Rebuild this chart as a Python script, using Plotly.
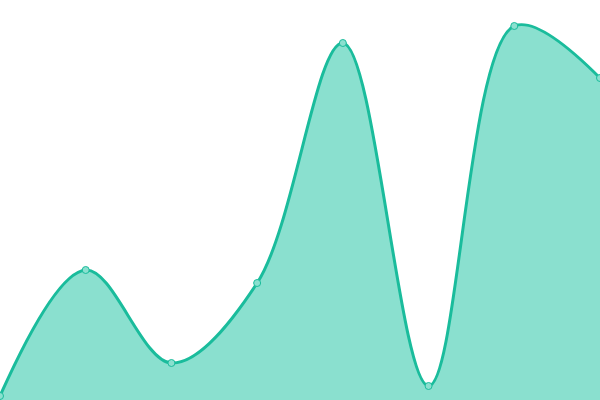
import plotly.graph_objects as go

categories = [0, 1, 2, 3, 4, 5, 6, 7]
values = [4, 130, 37, 117, 357, 14, 374, 322]

fig = go.Figure()
fig.add_trace(go.Scatter(
    x=categories, y=values,
    mode="lines+markers",
    line=dict(color="#1abc9c", width=3, shape="spline", smoothing=1),
    fill="tozeroy",
    fillcolor="#8ae0cf",
    marker=dict(size=7, color="#8ae0cf", line=dict(color="#1abc9c", width=1)),
    hoverinfo="skip",
))
fig.update_layout(
    width=600, height=400,
    margin=dict(l=0, r=0, t=0, b=0),
    paper_bgcolor="white", plot_bgcolor="white",
    showlegend=False,
    xaxis=dict(range=[0, 7], visible=False, fixedrange=True),
    yaxis=dict(range=[0, 400], visible=False, fixedrange=True),
)
fig.write_html("out.html", config={"displayModeBar": False},
               post_script="document.body.style.margin='0';document.body.style.overflow='hidden';")
